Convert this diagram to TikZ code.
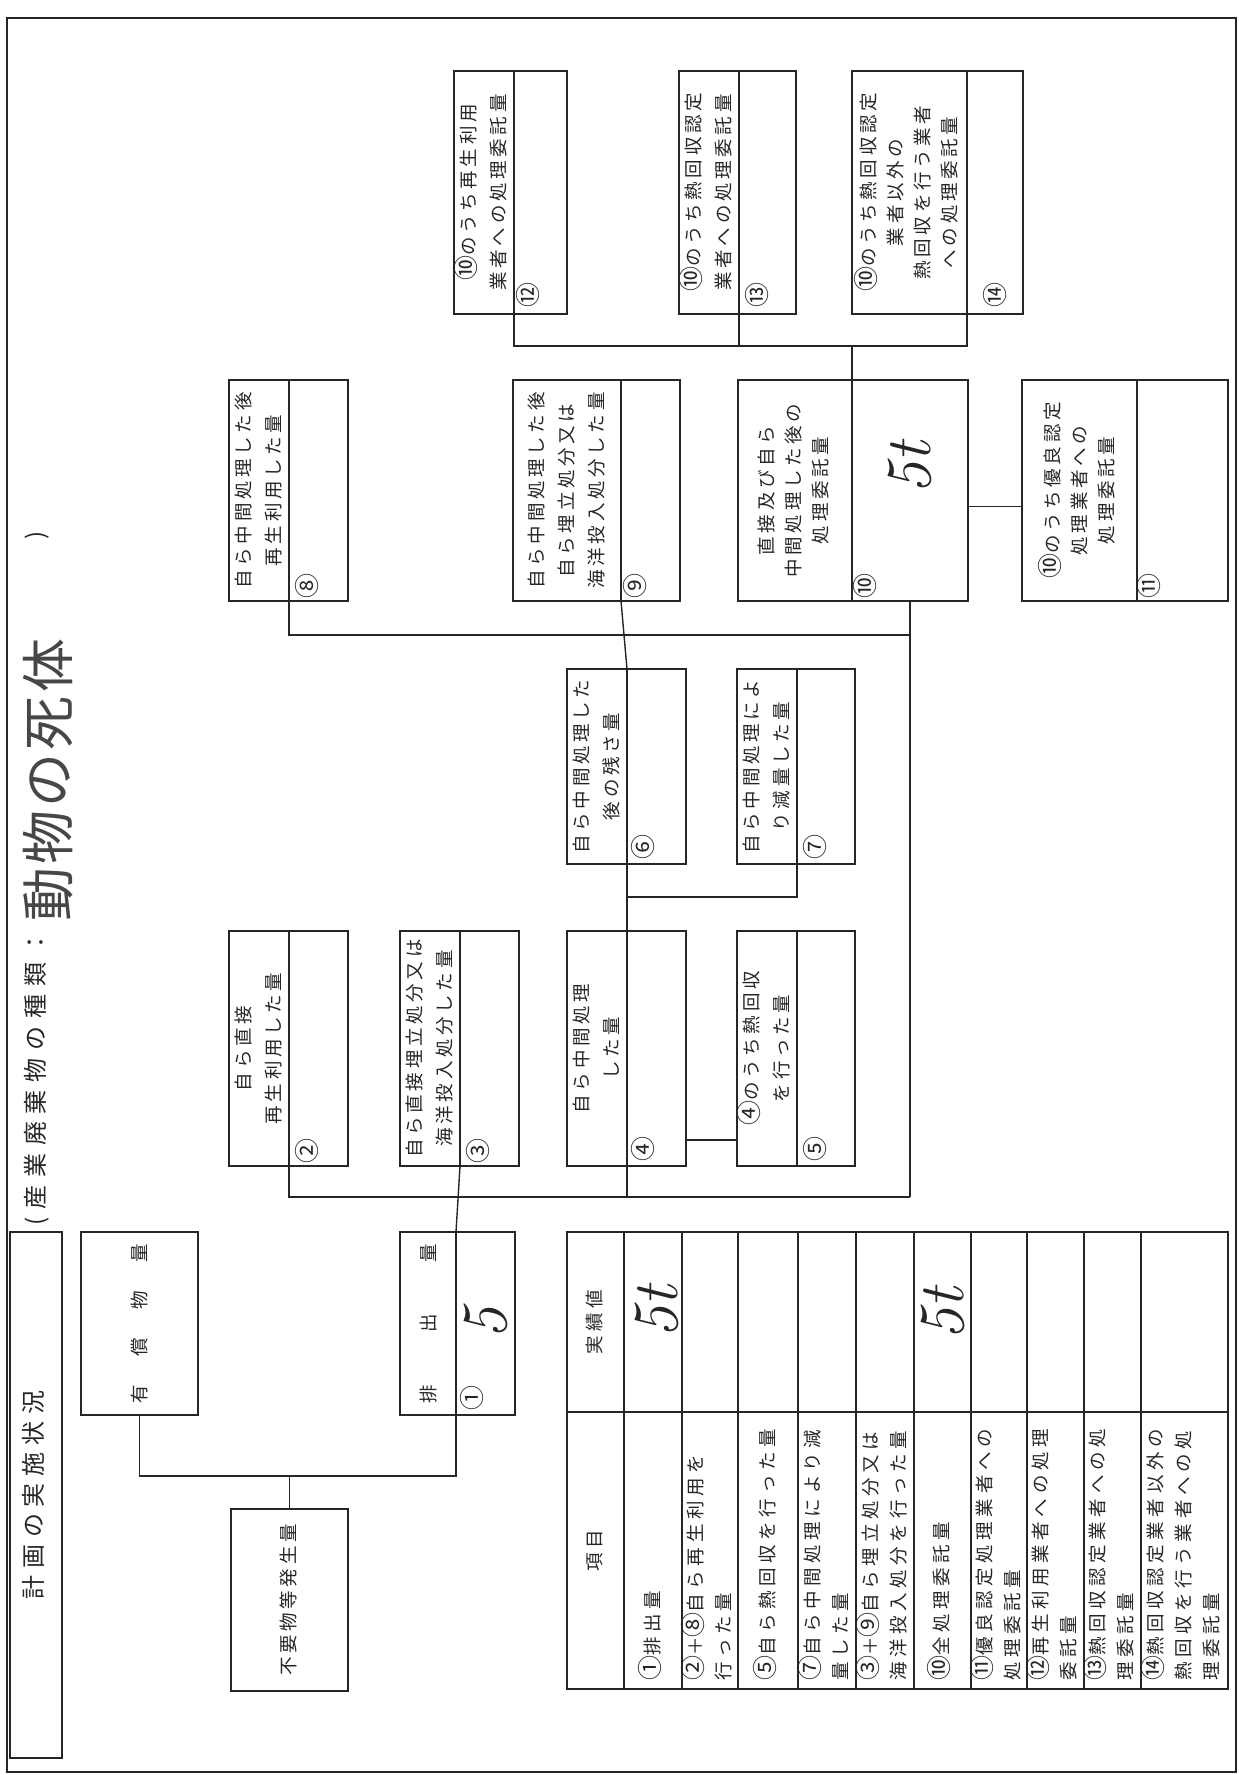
\documentclass[tikz,border=0pt]{standalone}
\usepackage{fontspec}
\usepackage{graphicx}
\usetikzlibrary{positioning, calc}

\newfontfamily\jpbox[LetterSpace=20]{Noto Sans CJK JP}
\newfontfamily\jptab[LetterSpace=25]{Noto Sans CJK JP}
\newfontfamily\jphead[LetterSpace=28]{Noto Sans CJK JP}
\newfontfamily\jpkind[LetterSpace=33]{Noto Sans CJK JP}
\newfontfamily\jphand[LetterSpace=6]{Noto Sans CJK JP}
\newfontfamily\jpnum{Noto Sans CJK JP}

\newcommand{\rtext}[2][c]{\rotatebox{90}{\begin{tabular}{@{}#1@{}}#2\end{tabular}}}
\newcommand{\spread}[2]{\rotatebox{90}{\makebox[#1][s]{#2}}}
\newcommand{\cn}[1]{{\fontsize{25}{20}\selectfont #1}}

\definecolor{ink}{HTML}{262626}

\tikzset{
  cell/.style={draw=ink, line width=1.5pt, inner sep=0pt, outer sep=0pt, anchor=north west, text=ink, font=\jpbox\fontsize{18.5}{30}\selectfont},
  wh/.style 2 args={minimum width=#1pt, minimum height=#2pt},
  tight/.style={font=\jpbox\fontsize{18.5}{27}\selectfont},
  tab/.style={font=\jptab\fontsize{18.5}{28}\selectfont},
  link/.style={draw=ink, line width=1.4pt},
  num/.style={inner sep=0pt, text=ink, font=\jpnum\fontsize{25}{26}\selectfont},
  item/.style={anchor=south, inner sep=0pt, text=ink, font=\jptab\fontsize{18.5}{28}\selectfont},
  hand/.style={inner sep=0pt, text=ink, font=\itshape\fontsize{64}{64}\selectfont},
  head/.style={inner sep=0pt, text=ink, font=\jpkind\fontsize{24}{30}\selectfont},
}

\begin{document}
\begin{tikzpicture}[x=1pt, y=-1pt]
   \useasboundingbox (0,0) rectangle (1239,1775);
   \draw[ink, line width=1.4pt] (7,18) rectangle (1236,1772);

   % Title and kind of waste
   \node[cell, wh={52}{526}, font=\jphead\fontsize{24}{30}\selectfont] (plan) at (10,1232) {\rtext{計画の実施状況}};
   \node[head, anchor=south] (kind) at (37,1226) {\rotatebox{90}{(産業廃棄物の種類：}};
   \node[inner sep=0pt, anchor=south, text=ink!85, font=\jphand\fontsize{54}{60}\selectfont] (kindval) at (48,922) {\rotatebox{90}{動物の死体}};
   \node[head] (kindend) at (37,535) {\rotatebox{90}{)}};

   % Generation and discharge
   \node[cell, wh={117}{183}] (paid) at (81,1232) {\spread{160pt}{有\hfill 償\hfill 物\hfill 量}};
   \node[cell, wh={56}{183}] (t1) at (400,1232) {\spread{160pt}{排\hfill 出\hfill 量}};
   \node[cell, wh={59}{183}] (v1) at (t1.north east) {};
   \node[hand] (h1) at (v1.center) {\rotatebox{90}{5}};
   \node[num] (n1) at ([shift={(16pt,17pt)}]v1.south west) {\rotatebox{90}{①}};
   \node[cell, wh={117}{182}] (need) at (231,1509) {\rtext{不要物等発生量}};

   % Direct handling
   \node[cell, wh={58}{235}] (t2) at (229,931) {\rtext{自ら直接\\再生利用した量}};
   \node[cell, wh={59}{235}] (v2) at (t2.north east) {};
   \node[num] (n2) at ([shift={(18pt,15pt)}]v2.south west) {\rotatebox{90}{②}};
   \node[cell, wh={56}{235}] (t3) at (400,931) {\rtext{自ら直接埋立処分又は\\海洋投入処分した量}};
   \node[cell, wh={59}{235}] (v3) at (t3.north east) {};
   \node[num] (n3) at ([shift={(18pt,15pt)}]v3.south west) {\rotatebox{90}{③}};
   \node[cell, wh={54}{235}] (t4) at (567,931) {\rtext{自ら中間処理\\した量}};
   \node[cell, wh={59}{235}] (v4) at (t4.north east) {};
   \node[num] (n4) at ([shift={(16pt,17pt)}]v4.south west) {\rotatebox{90}{④}};
   \node[cell, wh={58}{235}] (t5) at (737,931) {\rtext{\cn{④}のうち熱回収\\を行った量}};
   \node[cell, wh={58}{235}] (v5) at (t5.north east) {};
   \node[num] (n5) at ([shift={(18pt,17pt)}]v5.south west) {\rotatebox{90}{⑤}};

   % Intermediate treatment
   \node[cell, wh={54}{195}] (t6) at (567,669) {\rtext{自ら中間処理した\\後の残さ量}};
   \node[cell, wh={59}{195}] (v6) at (t6.north east) {};
   \node[num] (n6) at ([shift={(16pt,17pt)}]v6.south west) {\rotatebox{90}{⑥}};
   \node[cell, wh={58}{195}] (t7) at (737,669) {\rtext{自ら中間処理によ\\り減量した量}};
   \node[cell, wh={58}{195}] (v7) at (t7.north east) {};
   \node[num] (n7) at ([shift={(18pt,17pt)}]v7.south west) {\rotatebox{90}{⑦}};

   % After treatment
   \node[cell, wh={58}{221}] (t8) at (229,380) {\rtext{自ら中間処理した後\\再生利用した量}};
   \node[cell, wh={59}{221}] (v8) at (t8.north east) {};
   \node[num] (n8) at ([shift={(18pt,15pt)}]v8.south west) {\rotatebox{90}{⑧}};
   \node[cell, wh={108}{221}] (t9) at (513,380) {\rtext{自ら中間処理した後\\自ら埋立処分又は\\海洋投入処分した量}};
   \node[cell, wh={59}{221}] (v9) at (t9.north east) {};
   \node[num] (n9) at ([shift={(14pt,15pt)}]v9.south west) {\rotatebox{90}{⑨}};
   \node[cell, tight, wh={114}{221}] (t10) at (738,380) {\rtext{直接及び自ら\\中間処理した後の\\処理委託量}};
   \node[cell, wh={116}{221}] (v10) at (t10.north east) {};
   \node[hand] (h10) at ([yshift=22pt]v10.center) {\rotatebox{90}{5t}};
   \node[num] (n10) at ([shift={(13pt,15pt)}]v10.south west) {\rotatebox{90}{⑩}};
   \node[cell, tight, wh={115}{221}] (t11) at (1022,380) {\rtext{\cn{⑩}のうち優良認定\\処理業者への\\処理委託量}};
   \node[cell, wh={91}{221}] (v11) at (t11.north east) {};
   \node[num] (n11) at ([shift={(12pt,15pt)}]v11.south west) {\rotatebox{90}{⑪}};

   % Consignment
   \node[cell, wh={59}{243}] (t12) at (454,71) {\rtext{\cn{⑩}のうち再生利用\\業者への処理委託量}};
   \node[cell, wh={53}{243}] (v12) at (t12.north east) {};
   \node[num] (n12) at ([shift={(14pt,19pt)}]v12.south west) {\rotatebox{90}{⑫}};
   \node[cell, wh={59}{243}] (t13) at (679,71) {\rtext{\cn{⑩}のうち熱回収認定\\業者への処理委託量}};
   \node[cell, wh={57}{243}] (v13) at (t13.north east) {};
   \node[num] (n13) at ([shift={(18pt,19pt)}]v13.south west) {\rotatebox{90}{⑬}};
   \node[cell, tight, wh={115}{243}] (t14) at (852,71) {\rtext{\cn{⑩}のうち熱回収認定\\業者以外の\\熱回収を行う業者\\への処理委託量}};
   \node[cell, wh={56}{243}] (v14) at (t14.north east) {};
   \node[num] (n14) at ([shift={(28pt,19pt)}]v14.south west) {\rotatebox{90}{⑭}};

   % Result table
   \node[cell, tab, wh={57}{180}] (hv) at (567,1232) {\rtext{実績値}};
   \node[cell, tab, wh={57}{277}] (hi) at (hv.south west) {\rtext{項目}};
   \node[cell, wh={58}{180}] (r1v) at (hv.north east) {};
   \node[cell, wh={58}{277}] (r1i) at (r1v.south west) {};
   \node[item] (r1t) at ([yshift=8pt]r1i.south) {\rtext[l]{\cn{①}排出量}};
   \node[hand] (h1t) at ([shift={(4pt,10pt)}]r1v.center) {\rotatebox{90}{5t}};
   \node[cell, wh={56}{180}] (r2v) at (r1v.north east) {};
   \node[cell, wh={56}{277}] (r2i) at (r2v.south west) {};
   \node[item] (r2t) at ([yshift=8pt]r2i.south) {\rtext[l]{\cn{②}＋\cn{⑧}自ら再生利用を\\行った量}};
   \node[cell, wh={60}{180}] (r3v) at (r2v.north east) {};
   \node[cell, wh={60}{277}] (r3i) at (r3v.south west) {};
   \node[item] (r3t) at ([yshift=8pt]r3i.south) {\rtext[l]{\cn{⑤}自ら熱回収を行った量}};
   \node[cell, wh={58}{180}] (r4v) at (r3v.north east) {};
   \node[cell, wh={58}{277}] (r4i) at (r4v.south west) {};
   \node[item] (r4t) at ([yshift=8pt]r4i.south) {\rtext[l]{\cn{⑦}自ら中間処理により減\\量した量}};
   \node[cell, wh={58}{180}] (r5v) at (r4v.north east) {};
   \node[cell, wh={58}{277}] (r5i) at (r5v.south west) {};
   \node[item] (r5t) at ([yshift=8pt]r5i.south) {\rtext[l]{\cn{③}＋\cn{⑨}自ら埋立処分又は\\海洋投入処分を行った量}};
   \node[cell, wh={57}{180}] (r6v) at (r5v.north east) {};
   \node[cell, wh={57}{277}] (r6i) at (r6v.south west) {};
   \node[item] (r6t) at ([yshift=8pt]r6i.south) {\rtext[l]{\cn{⑩}全処理委託量}};
   \node[hand] (h6t) at ([yshift=8pt]r6v.center) {\rotatebox{90}{5t}};
   \node[cell, wh={56}{180}] (r7v) at (r6v.north east) {};
   \node[cell, wh={56}{277}] (r7i) at (r7v.south west) {};
   \node[item] (r7t) at ([yshift=8pt]r7i.south) {\rtext[l]{\cn{⑪}優良認定処理業者への\\処理委託量}};
   \node[cell, wh={57}{180}] (r8v) at (r7v.north east) {};
   \node[cell, wh={57}{277}] (r8i) at (r8v.south west) {};
   \node[item] (r8t) at ([yshift=8pt]r8i.south) {\rtext[l]{\cn{⑫}再生利用業者への処理\\委託量}};
   \node[cell, wh={57}{180}] (r9v) at (r8v.north east) {};
   \node[cell, wh={57}{277}] (r9i) at (r9v.south west) {};
   \node[item] (r9t) at ([yshift=8pt]r9i.south) {\rtext[l]{\cn{⑬}熱回収認定業者への処\\理委託量}};
   \node[cell, wh={87}{180}] (r10v) at (r9v.north east) {};
   \node[cell, wh={87}{277}] (r10i) at (r10v.south west) {};
   \node[item] (r10t) at ([yshift=8pt]r10i.south) {\rtext[l]{\cn{⑭}熱回収認定業者以外の\\熱回収を行う業者への処\\理委託量}};

   % Bus levels
   \coordinate (bus1) at (0,346);
   \coordinate (bus3) at (0,635);
   \coordinate (bus4) at (0,897);
   \coordinate (bus5) at (0,1140);
   \coordinate (bus6) at (0,1197);
   \coordinate (bus7) at (0,1476);

   % Generation to discharge
   \draw[link] (paid.south) -- (paid.south |- bus7) -- (v1.south west |- bus7) -- (v1.south west);
   \draw[link] (need.north) -- (need.north |- bus7);

   % Discharge to direct handling
   \draw[link] (v2.south west) -- (v2.south west |- bus6) -- (v10.south |- bus6);
   \draw[link] (v3.south west) -- (v1.north west);
   \draw[link] (v4.south west) -- (v4.south west |- bus6);
   \draw[link] (v10.south) -- (v10.south |- bus6);
   \draw[link] (v4.east |- bus5) -- (t5.west |- bus5);

   % Intermediate treatment
   \draw[link] (v6.south west) -- (v4.north west);
   \draw[link] (v7.south west) -- (v7.south west |- bus4) -- (v6.south west |- bus4);
   \draw[link] (v8.south west) -- (v8.south west |- bus3) -- (v10.south |- bus3);
   \draw[link] (v9.south west) -- (v6.north west);

   % Consignment
   \draw[link] ([yshift=-16pt]v10.east) -- ([yshift=-16pt]t11.west);
   \draw[link] (v12.south west) -- (v12.south west |- bus1) -- (v14.south west |- bus1) -- (v14.south west);
   \draw[link] (v13.south west) -- (v13.south west |- bus1);
   \draw[link] (v10.north west) -- (v10.north west |- bus1);
\end{tikzpicture}
\end{document}
